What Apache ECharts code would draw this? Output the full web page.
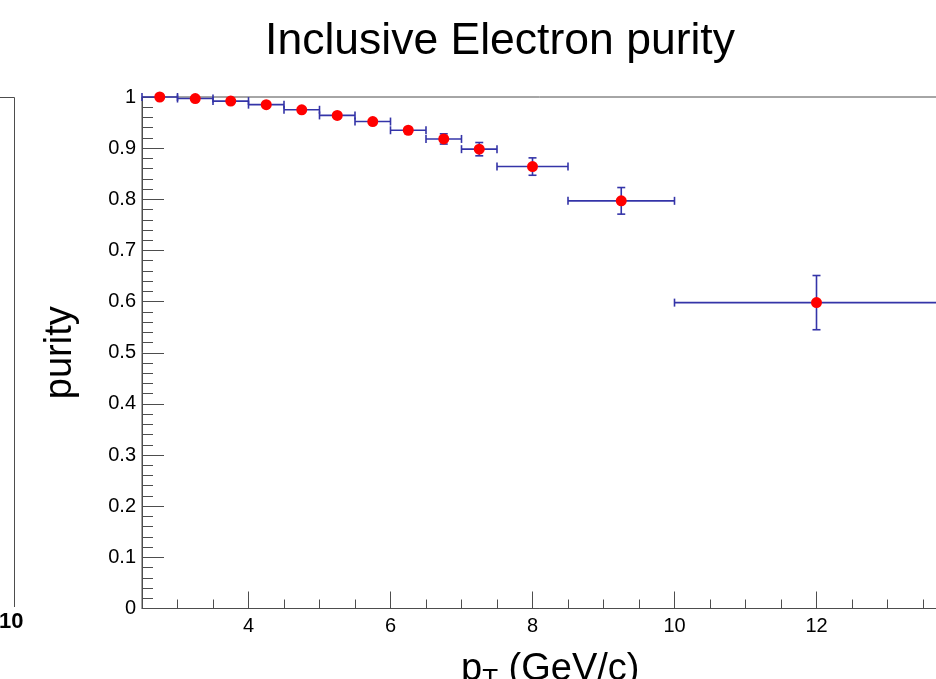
<!DOCTYPE html>
<html>
<head>
<meta charset="utf-8">
<script src="https://cdn.jsdelivr.net/npm/echarts@6/dist/echarts.min.js"></script>
<style>
  html, body { margin: 0; padding: 0; background: #fff; }
  #chart { width: 936px; height: 679px; }
</style>
</head>
<body>
<div id="chart"></div>
<script>
// bin centres, bin edges and purity values
const ptCenter = [2.75, 3.25, 3.75, 4.25, 4.75, 5.25, 5.75, 6.25, 6.75, 7.25, 8, 9.25, 12];
const ptLow    = [2.5, 3, 3.5, 4, 4.5, 5, 5.5, 6, 6.5, 7, 7.5, 8.5, 10];
const ptHigh   = [3, 3.5, 4, 4.5, 5, 5.5, 6, 6.5, 7, 7.5, 8.5, 10, 14];
const purity   = [1.0, 0.997, 0.992, 0.985, 0.975, 0.964, 0.952, 0.935, 0.918, 0.898, 0.864, 0.797, 0.598];
const purityErr = [0.002, 0.002, 0.003, 0.003, 0.004, 0.004, 0.005, 0.006, 0.01, 0.013, 0.017, 0.026, 0.053];

const xMajor = [4, 6, 8, 10, 12, 14];
const xMinor = [3, 3.5, 4.5, 5, 5.5, 6.5, 7, 7.5, 8.5, 9, 9.5, 10.5, 11, 11.5, 12.5, 13, 13.5];

const chart = echarts.init(document.getElementById('chart'));

const errData = ptCenter.map((x, i) => [x, purity[i], ptLow[i], ptHigh[i], purity[i] - purityErr[i], purity[i] + purityErr[i]]);
const pointData = ptCenter.map((x, i) => [x, purity[i]]);

const axisColor = '#4d4d4d';
const barColor = '#3434a8';
const font = 'Liberation Sans';

function renderErr(params, api) {
  const c = api.coord([api.value(0), api.value(1)]);
  const l = api.coord([api.value(2), api.value(1)]);
  const r = api.coord([api.value(3), api.value(1)]);
  const lo = api.coord([api.value(0), api.value(4)]);
  const hi = api.coord([api.value(0), api.value(5)]);
  const st = { stroke: barColor, lineWidth: 1.6 };
  const cap = 4;
  const kids = [
    { type: 'line', shape: { x1: l[0], y1: c[1], x2: r[0], y2: c[1] }, style: st },
    { type: 'line', shape: { x1: l[0], y1: c[1] - cap, x2: l[0], y2: c[1] + cap }, style: st },
    { type: 'line', shape: { x1: r[0], y1: c[1] - cap, x2: r[0], y2: c[1] + cap }, style: st }
  ];
  if (lo[1] - hi[1] > 10) {
    kids.push(
      { type: 'line', shape: { x1: c[0], y1: lo[1], x2: c[0], y2: hi[1] }, style: st },
      { type: 'line', shape: { x1: c[0] - cap, y1: lo[1], x2: c[0] + cap, y2: lo[1] }, style: st },
      { type: 'line', shape: { x1: c[0] - cap, y1: hi[1], x2: c[0] + cap, y2: hi[1] }, style: st }
    );
  }
  return { type: 'group', children: kids };
}

const option = {
  animation: false,
  textStyle: { fontFamily: font },
  title: {
    text: 'Inclusive Electron purity',
    left: 495, top: 14, textAlign: 'center',
    textStyle: { fontFamily: font, fontSize: 44.5, fontWeight: 'normal', color: '#000' }
  },
  grid: {
    left: 142, top: 97, bottom: 70.5, right: -22.5,
    outerBoundsMode: 'none',
    containLabel: false,
    show: true, borderColor: axisColor, borderWidth: 1, backgroundColor: 'transparent'
  },
  xAxis: [{
    type: 'value', min: 2.5, max: 14, position: 'bottom',
    name: '{p|p}{s|T}{p| (GeV/c)}',
    nameLocation: 'middle', nameGap: 38,
    nameTextStyle: {
      rich: {
        p: { fontFamily: font, fontSize: 38, color: '#000' },
        s: { fontFamily: font, fontSize: 26, color: '#000', verticalAlign: 'bottom', padding: [20, 0, 0, 0] }
      }
    },
    axisLine: { lineStyle: { color: axisColor, width: 1 } },
    axisTick: { inside: true, length: 17, customValues: xMajor, lineStyle: { color: axisColor } },
    axisLabel: { customValues: xMajor, fontSize: 20, color: '#000', margin: 8, fontFamily: font },
    splitLine: { show: false }
  }, {
    type: 'value', min: 2.5, max: 14, position: 'bottom',
    axisLine: { show: false },
    axisTick: { inside: true, length: 9, customValues: xMinor, lineStyle: { color: axisColor } },
    axisLabel: { show: false },
    splitLine: { show: false }
  }],
  yAxis: {
    type: 'value', min: 0, max: 1, interval: 0.1,
    name: 'purity', nameLocation: 'middle', nameGap: 62, nameRotate: 90,
    nameTextStyle: { fontFamily: font, fontSize: 38, color: '#000' },
    axisLine: { show: true, lineStyle: { color: axisColor, width: 1 } },
    axisTick: { show: true, inside: true, length: 22, lineStyle: { color: axisColor } },
    minorTick: { show: true, splitNumber: 5, length: 11, lineStyle: { color: axisColor } },
    axisLabel: { fontSize: 20, color: '#000', margin: 6, fontFamily: font },
    splitLine: { show: false }
  },
  graphic: [
    { type: 'polyline', shape: { points: [[0, 97.5], [14.5, 97.5], [14.5, 607]] }, style: { stroke: axisColor, lineWidth: 1, fill: null } },
    { type: 'text', left: -1, top: 611, style: { text: '10', fontFamily: font, fontSize: 22, fontWeight: 'bold', fill: '#000' } }
  ],
  series: [{
    type: 'custom',
    renderItem: renderErr,
    data: errData,
    clip: false,
    z: 2
  }, {
    type: 'scatter',
    data: pointData,
    symbol: 'circle',
    symbolSize: 11,
    itemStyle: { color: '#ff0000', opacity: 1 },
    z: 3
  }]
};

chart.setOption(option);
</script>
</body>
</html>
